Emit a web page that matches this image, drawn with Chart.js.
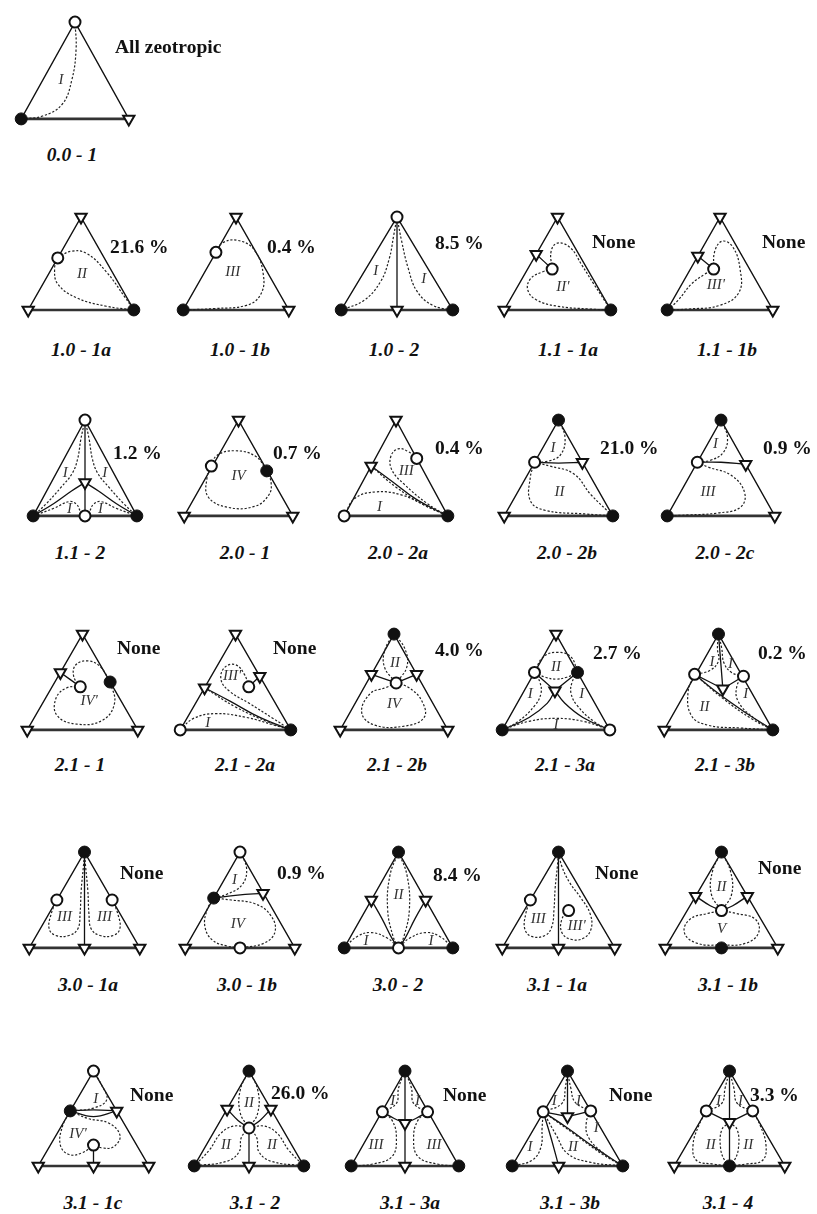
<!DOCTYPE html>
<html>
<head>
<meta charset="utf-8">
<script src="https://cdn.jsdelivr.net/npm/chart.js@4.4.1/dist/chart.umd.min.js"></script>
<style>
  html, body { margin: 0; padding: 0; background: #fff; }
  #sheet { position: relative; width: 817px; height: 1214px; overflow: hidden; background: #fff; }
  .panel { position: absolute; }
  .panel canvas { display: block; }
  .name, .share { position: absolute; white-space: nowrap; color: #111; z-index: 2; }
  .name  { transform: translate(-50%, -50%); font: italic bold 19.5px "Liberation Serif", "Times New Roman", serif; }
  .share { transform: translateY(-50%); font: bold 19.5px "Liberation Serif", "Times New Roman", serif; }
</style>
</head>
<body>
<div id="sheet"></div>
<script>
// ---- diagram classes ------------------------------------------------------
const diagramNames = [
  '0.0 - 1',
  '1.0 - 1a', '1.0 - 1b', '1.0 - 2', '1.1 - 1a', '1.1 - 1b',
  '1.1 - 2', '2.0 - 1', '2.0 - 2a', '2.0 - 2b', '2.0 - 2c',
  '2.1 - 1', '2.1 - 2a', '2.1 - 2b', '2.1 - 3a', '2.1 - 3b',
  '3.0 - 1a', '3.0 - 1b', '3.0 - 2', '3.1 - 1a', '3.1 - 1b',
  '3.1 - 1c', '3.1 - 2', '3.1 - 3a', '3.1 - 3b', '3.1 - 4'
];

// occurrence of each class, % (null = none found)
const occurrencePct = [
  null,
  21.6, 0.4, 8.5, null, null,
  1.2, 0.7, 0.4, 21.0, 0.9,
  null, null, 4.0, 2.7, 0.2,
  null, 0.9, 8.4, null, null,
  null, 26.0, null, null, 3.3
];
const allZeotropicNote = 'All zeotropic';

// singular point kinds at the pure components [top, left, right]
// o = unstable node, f = stable node, t = saddle
const vertexKinds = [
  ['o','f','t'],
  ['t','t','f'], ['t','f','t'], ['o','f','f'], ['t','t','f'], ['t','f','t'],
  ['o','f','f'], ['t','t','t'], ['t','o','f'], ['f','t','f'], ['f','f','t'],
  ['t','t','t'], ['t','o','f'], ['f','t','t'], ['t','f','o'], ['f','t','f'],
  ['f','t','t'], ['o','t','t'], ['f','f','f'], ['f','t','t'], ['f','t','t'],
  ['o','t','t'], ['f','f','f'], ['f','f','f'], ['f','f','f'], ['f','t','t']
];

// azeotropes: [kind, u, v] in triangle coordinates (u across the base, v up)
const azeotropes = [
  [],
  [['o',.28,.56]], [['o',.31,.62]], [['t',.5,0]], [['t',.3,.6],['o',.45,.44]], [['t',.29,.58],['o',.44,.44]],
  [['o',.5,0],['t',.5,.35]], [['o',.25,.52],['f',.76,.47]], [['t',.26,.52],['o',.7,.6]], [['o',.28,.56],['t',.72,.56]], [['o',.28,.56],['t',.73,.54]],
  [['t',.3,.6],['o',.48,.45],['f',.75,.5]], [['t',.22,.44],['t',.72,.56],['o',.62,.45]], [['t',.29,.58],['o',.52,.49],['t',.71,.58]],
  [['o',.3,.6],['f',.7,.6],['t',.49,.41]], [['o',.28,.58],['o',.73,.56],['t',.54,.43]],
  [['t',.5,0],['o',.25,.5],['o',.75,.5]], [['o',.5,0],['f',.26,.52],['t',.71,.57]], [['o',.5,0],['t',.25,.5],['t',.75,.5]],
  [['t',.5,0],['o',.25,.5],['o',.59,.39]], [['f',.5,0],['t',.27,.54],['t',.73,.54],['o',.5,.39]],
  [['t',.5,0],['f',.29,.58],['t',.71,.58],['o',.5,.22]], [['t',.5,0],['t',.3,.6],['t',.7,.6],['o',.5,.4]],
  [['t',.5,0],['o',.29,.57],['o',.71,.57],['t',.5,.45]], [['t',.42,0],['o',.28,.57],['o',.71,.58],['t',.5,.52]],
  [['f',.5,0],['o',.29,.58],['o',.71,.58],['t',.5,.46]]
];

// separatrices (solid)
const separatrices = [
  [],
  [], [], [[[.5,1],[.5,0]]], [[[.3,.6],[.45,.44]]], [[[.29,.58],[.44,.44]]],
  [[[.5,1],[.5,.35]], [[.5,.35],[.5,0]], [[0,0],[.2,.13],[.37,.26],[.5,.35]], [[1,0],[.8,.13],[.63,.26],[.5,.35]]],
  [],
  [[[.26,.52],[.45,.37],[.7,.17],[1,0]]],
  [[[.28,.56],[.5,.55],[.72,.56]]],
  [[[.28,.56],[.5,.56],[.73,.54]]],
  [[[.3,.6],[.48,.45]]],
  [[[.62,.45],[.72,.56]], [[.22,.44],[.45,.3],[.72,.13],[1,0]]],
  [[[.29,.58],[.52,.49]], [[.52,.49],[.71,.58]]],
  [[[.3,.6],[.49,.41]], [[.7,.6],[.49,.41]], [[0,0],[.25,.13],[.42,.28],[.49,.41]], [[1,0],[.75,.13],[.58,.28],[.49,.41]]],
  [[[.5,1],[.54,.43]], [[.28,.58],[.54,.43]], [[.73,.56],[.54,.43]], [[.28,.58],[.5,.38],[.75,.18],[1,0]]],
  [[[.5,1],[.5,0]]],
  [[[.26,.52],[.48,.55],[.71,.57]]],
  [[[.25,.5],[.35,.3],[.44,.1],[.5,0]], [[.75,.5],[.65,.3],[.56,.1],[.5,0]]],
  [[[.5,1],[.5,0]]],
  [[[.27,.54],[.4,.44],[.5,.39]], [[.73,.54],[.6,.44],[.5,.39]]],
  [[[.29,.58],[.5,.59],[.71,.58]], [[.29,.58],[.5,.52],[.71,.58]], [[.5,.22],[.5,0]]],
  [[[.3,.6],[.4,.48],[.5,.4]], [[.7,.6],[.6,.48],[.5,.4]], [[.5,.4],[.5,0]]],
  [[[.5,1],[.5,.45]], [[.5,.45],[.5,0]], [[.29,.57],[.4,.5],[.5,.45]], [[.71,.57],[.6,.5],[.5,.45]]],
  [[[.5,1],[.5,.52]], [[.28,.57],[.5,.52]], [[.71,.58],[.5,.52]], [[.28,.57],[.35,.3],[.42,0]], [[.28,.57],[.5,.4],[.75,.19],[1,0]]],
  [[[.5,1],[.5,.46]], [[.5,.46],[.5,0]], [[.29,.58],[.5,.46]], [[.71,.58],[.5,.46]]]
];

// residue curve boundaries of the regions (dotted)
const regionBounds = [
  [[[0,0],[.2,.03],[.38,.15],[.47,.4],[.51,.72],[.5,1]]],
  [[[.28,.56],[.4,.63],[.55,.61],[.74,.41],[.92,.13],[1,0]], [[.28,.56],[.25,.45],[.28,.28],[.46,.13],[.74,.04],[1,0]]],
  [[[.31,.62],[.37,.72],[.51,.75],[.67,.65],[.76,.37],[.73,.16],[.6,.05],[.3,.015],[0,0]]],
  [[[.5,1],[.47,.8],[.43,.55],[.35,.3],[.2,.1],[0,0]], [[.5,1],[.54,.75],[.6,.45],[.68,.2],[.82,.05],[1,0]]],
  [[[.45,.44],[.44,.63],[.5,.72],[.62,.67],[.73,.48],[.84,.28],[1,0]], [[.45,.44],[.36,.41],[.25,.34],[.22,.22],[.3,.11],[.5,.04],[.8,.01],[1,0]]],
  [[[.44,.44],[.45,.63],[.52,.74],[.62,.68],[.69,.44],[.68,.19],[.5,.05],[.2,.01],[0,0]], [[.44,.44],[.35,.38],[.23,.28],[.1,.1],[0,0]]],
  [[[.5,1],[.46,.8],[.43,.6],[.38,.45],[.27,.3],[.12,.12],[0,0]], [[.5,1],[.54,.8],[.57,.6],[.62,.45],[.73,.3],[.88,.12],[1,0]],
   [[0,0],[.2,.08],[.35,.15],[.42,.12],[.46,.04],[.5,0]], [[1,0],[.8,.08],[.65,.15],[.58,.12],[.54,.04],[.5,0]]],
  [[[.25,.52],[.3,.63],[.47,.68],[.66,.62],[.76,.47]], [[.25,.52],[.21,.4],[.22,.2],[.4,.09],[.65,.1],[.78,.22],[.8,.35],[.76,.47]]],
  [[[.7,.6],[.62,.67],[.52,.7],[.45,.62],[.46,.48],[.58,.33],[.8,.13],[1,0]], [[.26,.52],[.5,.3],[.76,.12],[1,0]],
   [[0,0],[.1,.18],[.3,.25],[.55,.22],[.8,.1],[1,0]]],
  [[[.5,1],[.56,.82],[.52,.64],[.4,.57],[.28,.56]], [[.28,.56],[.42,.52],[.64,.44],[.8,.22],[1,0]],
   [[.28,.56],[.24,.4],[.24,.16],[.37,.06],[.75,.02],[1,0]]],
  [[[.5,1],[.56,.82],[.52,.66],[.4,.58],[.28,.56]], [[.28,.56],[.38,.51],[.6,.42],[.72,.24],[.68,.09],[.47,.03],[.2,.01],[0,0]]],
  [[[.48,.45],[.42,.56],[.44,.68],[.55,.72],[.66,.66],[.75,.5]], [[.48,.45],[.36,.44],[.26,.33],[.27,.15],[.45,.06],[.68,.1],[.79,.28],[.75,.5]]],
  [[[.62,.45],[.58,.58],[.5,.68],[.4,.65],[.37,.52],[.45,.4],[.62,.28],[.84,.12],[1,0]], [[.22,.44],[.5,.24],[.8,.08],[1,0]],
   [[0,0],[.12,.12],[.32,.17],[.6,.13],[.85,.05],[1,0]]],
  [[[.5,1],[.42,.85],[.41,.66],[.52,.49]], [[.5,1],[.6,.85],[.62,.66],[.52,.49]],
   [[.52,.49],[.64,.44],[.76,.3],[.78,.13],[.6,.04],[.32,.05],[.2,.18],[.28,.38],[.42,.44],[.52,.49]]],
  [[[.3,.6],[.38,.76],[.51,.81],[.64,.76],[.7,.6]], [[.3,.6],[.4,.55],[.5,.53],[.6,.55],[.7,.6]],
   [[.3,.6],[.35,.5],[.36,.38],[.3,.25],[.15,.09],[0,0]], [[.7,.6],[.65,.5],[.64,.38],[.7,.25],[.85,.09],[1,0]],
   [[0,0],[.25,.09],[.5,.12],[.75,.09],[1,0]]],
  [[[.5,1],[.49,.85],[.5,.72],[.42,.62],[.28,.58]], [[.5,1],[.53,.85],[.55,.7],[.62,.6],[.73,.56]],
   [[.73,.56],[.67,.46],[.68,.3],[.82,.13],[1,0]], [[.28,.58],[.22,.4],[.25,.15],[.4,.05],[.7,.02],[1,0]],
   [[.28,.58],[.55,.32],[.8,.12],[1,0]]],
  [[[.25,.5],[.2,.36],[.18,.2],[.24,.13],[.36,.13],[.44,.2],[.46,.36],[.47,.6],[.49,.85],[.5,1]],
   [[.75,.5],[.8,.36],[.82,.2],[.76,.13],[.64,.13],[.56,.2],[.54,.36],[.53,.6],[.51,.85],[.5,1]]],
  [[[.5,1],[.56,.83],[.52,.66],[.38,.56],[.26,.52]], [[.26,.52],[.42,.5],[.64,.46],[.78,.34],[.82,.17],[.72,.05],[.5,0]],
   [[.26,.52],[.2,.4],[.18,.22],[.25,.08],[.38,.02],[.5,0]]],
  [[[.5,1],[.42,.75],[.4,.4],[.45,.12],[.5,0]], [[.5,1],[.58,.75],[.6,.4],[.55,.12],[.5,0]],
   [[0,0],[.12,.12],[.25,.16],[.4,.1],[.5,0]], [[1,0],[.88,.12],[.75,.16],[.6,.1],[.5,0]]],
  [[[.25,.5],[.21,.36],[.2,.2],[.26,.12],[.38,.13],[.44,.22],[.46,.4],[.47,.62],[.49,.85],[.5,1]],
   [[.59,.39],[.53,.3],[.53,.16],[.61,.09],[.72,.1],[.79,.2],[.78,.36],[.7,.52],[.6,.68],[.53,.85],[.5,1]]],
  [[[.5,1],[.42,.8],[.41,.56],[.5,.39]], [[.5,1],[.58,.8],[.59,.56],[.5,.39]],
   [[.5,.39],[.38,.36],[.22,.3],[.17,.16],[.28,.05],[.5,.03],[.72,.05],[.83,.16],[.8,.3],[.63,.36],[.5,.39]]],
  [[[.5,1],[.57,.86],[.62,.7],[.5,.61],[.29,.58]], [[.29,.58],[.45,.5],[.64,.45],[.74,.32],[.68,.2],[.58,.19],[.5,.22]],
   [[.29,.58],[.22,.42],[.2,.22],[.28,.12],[.4,.14],[.5,.22]]],
  [[[.5,1],[.42,.8],[.42,.56],[.5,.4]], [[.5,1],[.58,.8],[.58,.56],[.5,.4]],
   [[.5,.4],[.43,.3],[.41,.15],[.3,.05],[0,0]], [[.5,.4],[.36,.42],[.24,.34],[.14,.17],[0,0]],
   [[.5,.4],[.57,.3],[.59,.15],[.7,.05],[1,0]], [[.5,.4],[.64,.42],[.76,.34],[.86,.17],[1,0]]],
  [[[.5,1],[.44,.82],[.42,.66],[.29,.57]], [[.5,1],[.56,.82],[.58,.66],[.71,.57]],
   [[.29,.57],[.38,.48],[.42,.3],[.38,.1],[.2,.02],[0,0]], [[.71,.57],[.62,.48],[.58,.3],[.62,.1],[.8,.02],[1,0]]],
  [[[.5,1],[.48,.82],[.45,.66],[.28,.57]], [[.5,1],[.53,.82],[.57,.67],[.71,.58]],
   [[.71,.58],[.67,.46],[.69,.3],[.83,.13],[1,0]], [[.28,.57],[.27,.4],[.26,.2],[.18,.06],[0,0]],
   [[.28,.57],[.4,.32],[.5,.13],[.7,.04],[1,0]], [[.28,.57],[.58,.32],[.82,.12],[1,0]]],
  [[[.5,1],[.46,.82],[.43,.66],[.29,.58]], [[.5,1],[.54,.82],[.57,.66],[.71,.58]],
   [[.29,.58],[.22,.42],[.17,.22],[.2,.06],[.35,.02],[.5,0]], [[.5,.46],[.43,.38],[.42,.18],[.46,.05],[.5,0]],
   [[.71,.58],[.78,.42],[.83,.22],[.8,.06],[.65,.02],[.5,0]], [[.5,.46],[.57,.38],[.58,.18],[.54,.05],[.5,0]]]
];

// distillation region labels [text, u, v]
const regionNames = [
  [['I',.37,.4]],
  [['II',.51,.39]], [['III',.47,.41]], [['I',.31,.42],['I',.74,.33]], [["II'",.55,.25]], [["III'",.46,.27]],
  [['I',.31,.45],['I',.69,.45],['I',.35,.07],['I',.65,.07]], [['IV',.5,.42]], [['III',.6,.47],['I',.34,.09]],
  [['I',.45,.71],['II',.51,.25]], [['I',.45,.75],['III',.38,.25]],
  [["IV'",.56,.3]], [["III'",.47,.56],['I',.25,.07]], [['II',.51,.7],['IV',.5,.27]],
  [['II',.5,.66],['I',.26,.37],['I',.74,.37],['I',.5,.05]], [['I',.44,.71],['I',.61,.69],['I',.75,.37],['II',.37,.24]],
  [['III',.32,.32],['III',.68,.32]], [['I',.45,.71],['IV',.48,.25]], [['II',.5,.55],['I',.2,.07],['I',.8,.07]],
  [['III',.32,.3],["III'",.66,.23]], [['II',.5,.64],['V',.5,.2]],
  [['I',.52,.7],["IV'",.36,.34]], [['II',.5,.66],['II',.29,.22],['II',.71,.22]],
  [['I',.385,.68],['I',.615,.68],['III',.23,.22],['III',.77,.22]],
  [['I',.38,.68],['I',.6,.68],['I',.76,.4],['I',.16,.2],['II',.55,.2]],
  [['I',.4,.68],['I',.6,.68],['II',.33,.22],['II',.67,.22]]
];

// ---- page layout (pixels) -------------------------------------------------
// [left, width, baseline, height] of each triangle
const frames = [
  [14,122,126,111],
  [21,120,317,107], [176,120,317,107], [334,126,317,107], [497,121,317,107], [660,120,317,107],
  [26,118,523,110], [177,123,523,110], [337,118,523,110], [497,123,523,110], [660,122,523,110],
  [20,125,737,110], [173,125,737,110], [333,122,737,110], [495,122,737,110], [657,123,737,110],
  [22,125,955,110], [178,124,955,110], [337,123,955,110], [495,127,955,110], [658,127,955,110],
  [31,125,1173,109], [187,124,1173,109], [344,122,1173,109], [505,125,1173,109], [667,125,1173,109]
];
const namePos = [
  [72,155],
  [81,350], [240,350], [394,350], [568,350], [727,350],
  [80,553], [245,553], [398,553], [567,553], [725,553],
  [80,765], [245,765], [397,765], [565,765], [725,765],
  [88,985], [247,985], [398,985], [557,985], [728,985],
  [93,1203], [255,1203], [410,1203], [570,1203], [728,1203]
];
const sharePos = [
  [115,47],
  [110,247], [267,247], [435,243], [592,242], [762,242],
  [113,453], [273,453], [435,448], [600,448], [763,448],
  [117,648], [273,648], [435,650], [593,653], [758,653],
  [120,873], [277,873], [433,875], [595,873], [758,868],
  [130,1095], [271,1093], [443,1095], [609,1095], [750,1095]
];

const PAD = 11;
const INK = '#111';
const MARKER = {
  o: { pointStyle: 'circle',   pointRadius: 5.5, pointBorderWidth: 2,   pointBackgroundColor: '#fff', pointBorderColor: INK },
  f: { pointStyle: 'circle',   pointRadius: 6,   pointBorderWidth: 1,   pointBackgroundColor: INK,    pointBorderColor: INK },
  t: { pointStyle: 'triangle', pointRadius: 6.5, pointBorderWidth: 2,   pointBackgroundColor: '#fff', pointBorderColor: INK, pointRotation: 180 }
};
const CORNERS = [[.5,1],[0,0],[1,0]];

const asPoints = path => path.map(([u, v]) => ({ x: u, y: v }));

function shareText(i) {
  if (i === 0) return allZeotropicNote;
  const v = occurrencePct[i];
  return v == null ? 'None' : v.toFixed(1) + ' %';
}

const sheet = document.getElementById('sheet');

function drawDiagram(i) {
  const [left, width, base, height] = frames[i];
  const box = document.createElement('div');
  box.className = 'panel';
  box.style.left = (left - PAD) + 'px';
  box.style.top = (base - height - PAD) + 'px';
  const cw = width + 2 * PAD, ch = height + 2 * PAD;
  const canvas = document.createElement('canvas');
  canvas.width = cw; canvas.height = ch;
  canvas.style.width = cw + 'px'; canvas.style.height = ch + 'px';
  box.appendChild(canvas);
  sheet.appendChild(box);

  const datasets = [];
  // singular points: pure components + azeotropes
  const points = vertexKinds[i].map((k, j) => [k, CORNERS[j][0], CORNERS[j][1]]).concat(azeotropes[i]);
  ['t', 'o', 'f'].forEach(kind => {
    const pts = points.filter(p => p[0] === kind).map(p => ({ x: p[1], y: p[2] }));
    if (pts.length) datasets.push(Object.assign({ data: pts, showLine: false, order: 0 }, MARKER[kind]));
  });
  // dotted region boundaries
  regionBounds[i].forEach(path => datasets.push({
    data: asPoints(path), showLine: true, order: 1, tension: 0.42,
    borderColor: '#222', borderWidth: 1.2, borderDash: [2.2, 1.8], pointRadius: 0
  }));
  // separatrices
  separatrices[i].forEach(path => datasets.push({
    data: asPoints(path), showLine: true, order: 2, tension: 0.42,
    borderColor: INK, borderWidth: 1.3, pointRadius: 0
  }));
  // triangle sides
  datasets.push({ data: asPoints([[0,0],[.5,1],[1,0]]), showLine: true, order: 3, tension: 0,
    borderColor: INK, borderWidth: 1.35, pointRadius: 0 });
  datasets.push({ data: asPoints([[0,0],[1,0]]), showLine: true, order: 3, tension: 0,
    borderColor: '#333', borderWidth: 2.6, pointRadius: 0 });

  const labels = regionNames[i];
  const regionLabelPlugin = {
    id: 'regionLabels',
    afterDatasetsDraw(chart) {
      const { ctx, scales } = chart;
      ctx.save();
      ctx.font = 'italic 15px "Liberation Serif", "Times New Roman", serif';
      ctx.fillStyle = '#333';
      ctx.textAlign = 'center';
      ctx.textBaseline = 'middle';
      labels.forEach(([t, u, v]) => ctx.fillText(t, scales.x.getPixelForValue(u), scales.y.getPixelForValue(v)));
      ctx.restore();
    }
  };

  new Chart(canvas, {
    type: 'scatter',
    data: { datasets },
    options: {
      responsive: false,
      animation: false,
      devicePixelRatio: 1,
      events: [],
      layout: { padding: 0 },
      plugins: { legend: { display: false }, tooltip: { enabled: false } },
      scales: {
        x: { type: 'linear', display: false, min: -PAD / width,  max: 1 + PAD / width },
        y: { type: 'linear', display: false, min: -PAD / height, max: 1 + PAD / height }
      }
    },
    plugins: [regionLabelPlugin]
  });

  const name = document.createElement('div');
  name.className = 'name';
  name.textContent = diagramNames[i];
  name.style.left = namePos[i][0] + 'px';
  name.style.top = namePos[i][1] + 'px';
  sheet.appendChild(name);

  const share = document.createElement('div');
  share.className = 'share';
  share.textContent = shareText(i);
  share.style.left = sharePos[i][0] + 'px';
  share.style.top = sharePos[i][1] + 'px';
  sheet.appendChild(share);
}

diagramNames.forEach((_, i) => drawDiagram(i));
</script>
</body>
</html>
